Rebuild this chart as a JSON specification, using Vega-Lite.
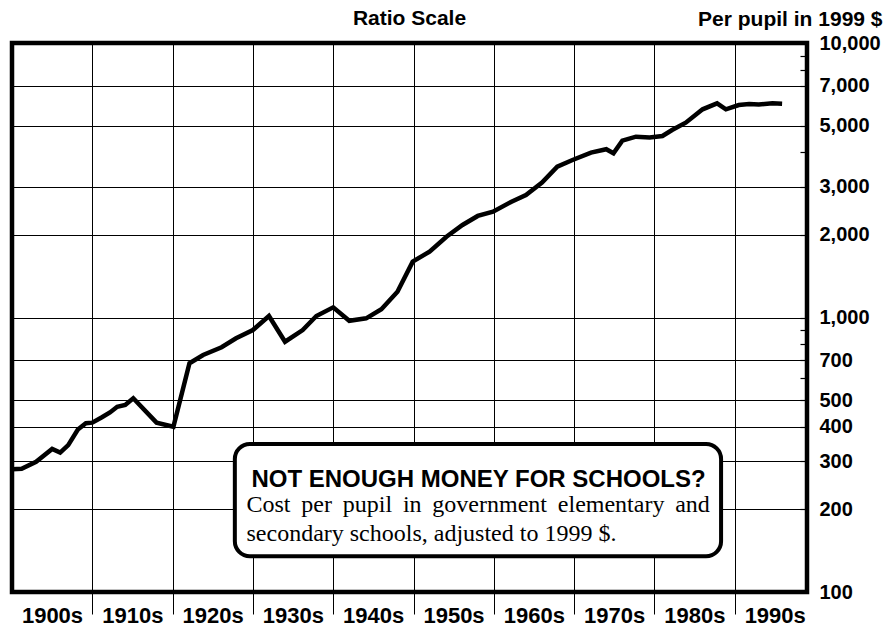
{
  "$schema": "https://vega.github.io/schema/vega-lite/v6.json",
  "width": 795,
  "height": 549,
  "autosize": {"type": "none"},
  "padding": {"left": 12, "top": 43, "right": 76, "bottom": 38},
  "background": "white",
  "config": {
    "view": {"stroke": "black", "strokeWidth": 4.5},
    "font": "Liberation Sans"
  },
  "data": {
    "values": [
      {"year": 1900, "cost": 280},
      {"year": 1901.2, "cost": 281},
      {"year": 1903, "cost": 298},
      {"year": 1905, "cost": 332},
      {"year": 1906, "cost": 322},
      {"year": 1907, "cost": 343},
      {"year": 1908.2, "cost": 391},
      {"year": 1909.2, "cost": 412},
      {"year": 1910, "cost": 414},
      {"year": 1911.2, "cost": 433},
      {"year": 1912.2, "cost": 451},
      {"year": 1913.1, "cost": 473},
      {"year": 1914.1, "cost": 480},
      {"year": 1915.1, "cost": 508},
      {"year": 1918, "cost": 414},
      {"year": 1920.1, "cost": 400},
      {"year": 1922.1, "cost": 681},
      {"year": 1923.8, "cost": 730},
      {"year": 1926.1, "cost": 779},
      {"year": 1927.9, "cost": 840},
      {"year": 1930, "cost": 900},
      {"year": 1932, "cost": 1013},
      {"year": 1934, "cost": 816},
      {"year": 1936.2, "cost": 900},
      {"year": 1937.9, "cost": 1013},
      {"year": 1940, "cost": 1089},
      {"year": 1942, "cost": 973},
      {"year": 1944.1, "cost": 993},
      {"year": 1946, "cost": 1072},
      {"year": 1948, "cost": 1242},
      {"year": 1949.9, "cost": 1597},
      {"year": 1952, "cost": 1738},
      {"year": 1954.1, "cost": 1969},
      {"year": 1956.1, "cost": 2173},
      {"year": 1958, "cost": 2344},
      {"year": 1959.9, "cost": 2430},
      {"year": 1962.2, "cost": 2642},
      {"year": 1964, "cost": 2794},
      {"year": 1966, "cost": 3100},
      {"year": 1967.9, "cost": 3543},
      {"year": 1969.8, "cost": 3749},
      {"year": 1972.1, "cost": 3988},
      {"year": 1974, "cost": 4102},
      {"year": 1974.9, "cost": 3966},
      {"year": 1976, "cost": 4406},
      {"year": 1977.7, "cost": 4558},
      {"year": 1979.4, "cost": 4530},
      {"year": 1981, "cost": 4583},
      {"year": 1982.2, "cost": 4820},
      {"year": 1983.9, "cost": 5126},
      {"year": 1986, "cost": 5734},
      {"year": 1987.8, "cost": 6030},
      {"year": 1988.9, "cost": 5734},
      {"year": 1990.5, "cost": 5943},
      {"year": 1991.8, "cost": 5995},
      {"year": 1993, "cost": 5970},
      {"year": 1994.7, "cost": 6030},
      {"year": 1995.9, "cost": 6010}
    ]
  },
  "layer": [
    {
      "mark": {"type": "line", "color": "black", "strokeWidth": 4.5, "clip": true},
      "encoding": {
        "x": {
          "field": "year",
          "type": "quantitative",
          "scale": {"domain": [1900, 1999], "nice": false, "zero": false},
          "axis": {
            "values": [1900, 1910, 1920, 1930, 1940, 1950, 1960, 1970, 1980, 1990],
            "format": "d",
            "labelExpr": "datum.label + 's'",
            "labelOffset": 40,
            "labelFont": "Liberation Sans",
            "labelFontSize": 22,
            "labelFontWeight": "bold",
            "labelColor": "black",
            "labelBaseline": "alphabetic",
            "labelPadding": 8,
            "labelFlush": false,
            "labelOverlap": false,
            "labelBound": false,
            "tickSize": 22,
            "tickColor": "black",
            "tickWidth": 1,
            "tickOpacity": {"condition": {"test": "datum.value === 1900", "value": 0}, "value": 1},
            "domain": false,
            "grid": true,
            "gridColor": "black",
            "gridWidth": 1,
            "title": null
          }
        },
        "y": {
          "field": "cost",
          "type": "quantitative",
          "scale": {"type": "log", "domain": [100, 10000], "nice": false},
          "axis": {
            "orient": "right",
            "values": [100, 200, 300, 400, 500, 600, 700, 800, 900, 1000, 2000, 3000, 4000, 5000, 7000, 8000, 9000, 10000],
            "labelExpr": "indexof([600, 800, 900, 4000, 8000, 9000], datum.value) >= 0 ? '' : format(datum.value, ',')",
            "labelFont": "Liberation Sans",
            "labelFontSize": 20,
            "labelFontWeight": "bold",
            "labelColor": "black",
            "labelBaseline": "middle",
            "labelPadding": 19,
            "labelFlush": false,
            "labelOverlap": false,
            "labelBound": false,
            "tickSize": -7,
            "tickColor": "black",
            "tickWidth": 1.2,
            "domain": false,
            "grid": true,
            "gridColor": "black",
            "gridWidth": 1,
            "gridOpacity": {"condition": {"test": "indexof([600, 800, 900, 4000, 8000, 9000], datum.value) >= 0", "value": 0}, "value": 1},
            "title": "Per pupil in 1999 $",
            "titleAngle": 0,
            "titleAlign": "right",
            "titleBaseline": "alphabetic",
            "titleX": 75,
            "titleY": -18,
            "titleFont": "Liberation Sans",
            "titleFontSize": 21,
            "titleFontWeight": "bold",
            "titleColor": "black"
          }
        }
      }
    },
    {
      "data": {"values": [{}]},
      "mark": {
        "type": "text",
        "text": "Ratio Scale",
        "font": "Liberation Sans",
        "fontWeight": "bold",
        "fontSize": 21,
        "align": "center",
        "baseline": "alphabetic",
        "dy": -18,
        "clip": false,
        "color": "black"
      },
      "encoding": {"x": {"datum": 1949.5}, "y": {"datum": 10000}}
    },
    {
      "data": {"values": [{}]},
      "mark": {"type": "rect", "fill": "white", "stroke": "black", "strokeWidth": 4, "cornerRadius": 15},
      "encoding": {
        "x": {"datum": 1927.75},
        "x2": {"datum": 1988.3},
        "y": {"datum": 346},
        "y2": {"datum": 135}
      }
    },
    {
      "data": {"values": [{}]},
      "mark": {
        "type": "text",
        "text": "NOT ENOUGH MONEY FOR SCHOOLS?",
        "font": "Liberation Sans",
        "fontWeight": "bold",
        "fontSize": 24,
        "align": "center",
        "baseline": "alphabetic",
        "color": "black"
      },
      "encoding": {"x": {"datum": 1958.1}, "y": {"datum": 241}}
    },
    {
      "data": {"values": [{}]},
      "mark": {
        "type": "text",
        "text": ["Cost \u2009per \u2009pupil \u2009in \u2009government \u2009elementary \u2009and", "secondary schools, adjusted to 1999 $."],
        "font": "Liberation Serif",
        "fontSize": 24,
        "align": "left",
        "baseline": "alphabetic",
        "lineHeight": 29,
        "color": "black"
      },
      "encoding": {"x": {"datum": 1929.2}, "y": {"datum": 195.6}}
    }
  ]
}
